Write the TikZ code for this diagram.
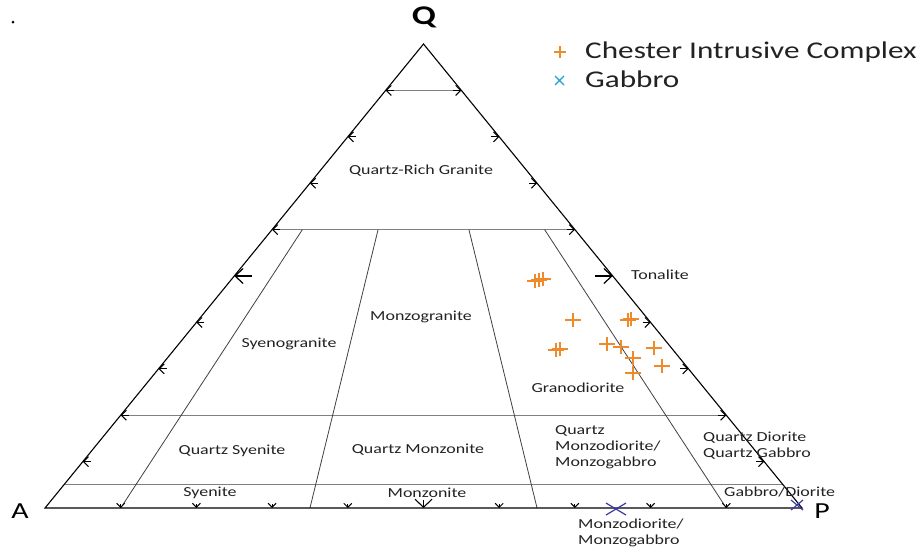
\documentclass[tikz,border=0pt]{standalone}
\usepackage{fontspec}
\setmainfont{Carlito}[FakeStretch=1.3]
\usetikzlibrary{calc,arrows.meta}
\definecolor{cicorange}{HTML}{EE8A2A}
\definecolor{gabbroblue}{HTML}{3C3CA0}
\definecolor{legendblue}{HTML}{1EA0DC}
\definecolor{labelgray}{HTML}{222222}
\tikzset{
  edge/.style={line width=1.1pt, black},
  qline/.style={line width=1.3pt, black!50},
  divline/.style={line width=0.8pt, black!75},
  tickmark/.style={line width=1pt, -{Straight Barb[length=5pt,width=10pt]}},
  bigtick/.style={line width=1.2pt, -{Straight Barb[length=8pt,width=15pt]}},
  basetick/.style={line width=1pt, -{Straight Barb[length=4pt,width=8pt]}},
  basebig/.style={line width=1.1pt, -{Straight Barb[length=8pt,width=17pt]}},
  field/.style={font=\fontsize{13.8}{16}\selectfont, text=labelgray, inner sep=0pt, align=left},
  corner/.style={font=\fontsize{23}{23}\selectfont, inner sep=0pt},
  legendtext/.style={font=\fontsize{24}{24}\selectfont, text=labelgray, inner sep=0pt, anchor=west},
  cic/.style={line width=1.4pt, cicorange},
  gab/.style={line width=1.2pt, gabbroblue},
}
\begin{document}
\begin{tikzpicture}[x=1pt,y=-1pt]
  \useasboundingbox (0,0) rectangle (924,552);
  \coordinate (A) at (45,508);
  \coordinate (P) at (802,508);
  \coordinate (Q) at (423.5,44);

  \foreach \q in {0.9,0.6,0.2,0.05}
    \draw[qline] ($(A)!\q!(Q)$) -- ($(P)!\q!(Q)$);
  \foreach \r in {0.1,0.35,0.65,0.9}
    \draw[divline] ($($(A)!\r!(P)$)!0.6!(Q)$) -- ($(A)!\r!(P)$);
  \draw[edge] (A) -- (P) -- (Q) -- cycle;

  \foreach \k in {1,2,3,4,6,7,8,9}{
    \draw[tickmark] ($(A)!\k/10!(Q)+(8,0)$) -- ($(A)!\k/10!(Q)$);
    \draw[tickmark] ($(P)!\k/10!(Q)+(-8,0)$) -- ($(P)!\k/10!(Q)$);
    \draw[basetick] ($(A)!\k/10!(P)+(0,-4)$) -- ($(A)!\k/10!(P)$);
  }
  \draw[bigtick] ($(A)!0.5!(Q)+(18,0)$) -- ($(A)!0.5!(Q)$);
  \draw[bigtick] ($(P)!0.5!(Q)+(-18,0)$) -- ($(P)!0.5!(Q)$);
  \draw[basebig] ($(A)!0.5!(P)+(0,-8)$) -- ($(A)!0.5!(P)$);

  \node[field] (qrg) at (421,171) {Quartz-Rich Granite};
  \node[field] (syg) at (289,344) {Syenogranite};
  \node[field] (mzg) at (421,317) {Monzogranite};
  \node[field] (ton) at (660,275) {Tonalite};
  \node[field] (grd) at (578,388) {Granodiorite};
  \node[field] (qsy) at (232,451) {Quartz Syenite};
  \node[field] (qmz) at (418,450) {Quartz Monzonite};
  \node[field, anchor=west] (qmd) at (555,447) {Quartz\\Monzodiorite/\\Monzogabbro};
  \node[field, anchor=west] (qdi) at (703,446) {Quartz Diorite\\Quartz Gabbro};
  \node[field, anchor=west] (gbd) at (724,492) {Gabbro/Diorite};
  \node[field] (sye) at (210,493) {Syenite};
  \node[field] (mzn) at (427,493) {Monzonite};
  \node[field, anchor=west] (mdg) at (578,533) {Monzodiorite/\\Monzogabbro};

  \node[corner, font=\fontsize{27}{27}\selectfont\bfseries] (qv) at (424,17) {Q};
  \node[corner] (av) at (20,511) {A};
  \node[corner] (pv) at (822,511) {P};

  \foreach \x/\y in {535/281, 539/280, 543/279, 573/320, 628/320, 631/319, 556/350, 560/349,
                     607/344, 621/347, 654/348, 633/358, 662/366, 633/373}
    \draw[cic] (\x-8,\y) -- (\x+8,\y) (\x,\y-7) -- (\x,\y+7);
  \draw[gab] (606,503) -- (626,515) (606,515) -- (626,503);
  \draw[gab] (791,500) -- (803,510) (791,510) -- (803,500);

  \draw[cic, line width=1.2pt] (554,52) -- (566,52) (560,46) -- (560,58);
  \draw[line width=1.2pt, legendblue] (555,76) -- (564,85) (555,85) -- (564,76);
  \node[legendtext] (lcic) at (585,52) {Chester Intrusive Complex};
  \node[legendtext] (lgab) at (585,79) {Gabbro};
  \fill (13,22) circle (1.5);
\end{tikzpicture}
\end{document}
